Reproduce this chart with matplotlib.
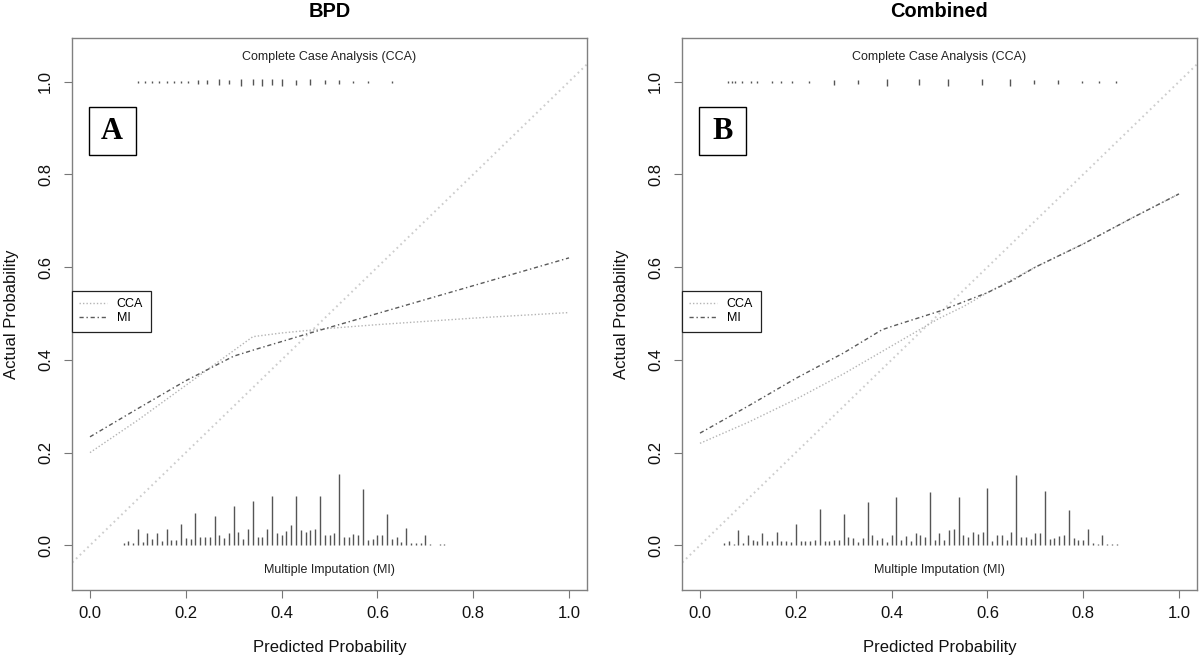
import numpy as np
import matplotlib
matplotlib.use('Agg')  # no display in the sandbox
import matplotlib.pyplot as plt
from matplotlib.patches import Rectangle

plt.rcParams['font.family'] = ['Liberation Sans', 'DejaVu Sans']

# Calibration curves (predicted vs actual probability)
bpd_cca_x = [0.0, 0.1, 0.2, 0.3, 0.34, 0.4, 0.5, 0.6, 0.8, 1.0]
bpd_cca_y = [0.20, 0.27, 0.345, 0.42, 0.45, 0.458, 0.468, 0.476, 0.49, 0.502]
bpd_mi_x = [0.0, 0.1, 0.2, 0.3, 0.35, 0.45, 0.6, 0.8, 1.0]
bpd_mi_y = [0.234, 0.295, 0.355, 0.408, 0.424, 0.455, 0.50, 0.56, 0.62]

comb_cca_x = [0.0, 0.1, 0.2, 0.3, 0.4, 0.5, 0.55, 0.6, 0.7, 0.8, 0.9, 1.0]
comb_cca_y = [0.22, 0.265, 0.315, 0.37, 0.43, 0.49, 0.515, 0.545, 0.60, 0.65, 0.705, 0.758]
comb_mi_x = [0.0, 0.1, 0.2, 0.3, 0.38, 0.4, 0.5, 0.6, 0.65, 0.7, 0.8, 0.9, 1.0]
comb_mi_y = [0.242, 0.30, 0.36, 0.415, 0.465, 0.472, 0.505, 0.545, 0.57, 0.60, 0.65, 0.705, 0.758]

# Distribution of predicted risk, MI (bottom spikes, bins of 0.01)
bpd_mi_start = 0.07
bpd_mi_heights = [
    0.004, 0.009, 0.005, 0.035, 0.007, 0.027, 0.013, 0.027, 0.009, 0.035,
    0.011, 0.011, 0.047, 0.016, 0.014, 0.070, 0.017, 0.017, 0.017, 0.063,
    0.023, 0.016, 0.027, 0.084, 0.029, 0.014, 0.035, 0.095, 0.019, 0.018,
    0.035, 0.106, 0.027, 0.023, 0.030, 0.043, 0.106, 0.033, 0.029, 0.032,
    0.035, 0.107, 0.022, 0.022, 0.027, 0.153, 0.017, 0.017, 0.024, 0.023,
    0.121, 0.011, 0.014, 0.023, 0.022, 0.068, 0.014, 0.017, 0.007, 0.037,
    0.004, 0.004, 0.004, 0.022, 0.003, 0.0, 0.003, 0.003]
comb_mi_start = 0.05
comb_mi_heights = [
    0.004, 0.009, 0.002, 0.033, 0.006, 0.022, 0.011, 0.009, 0.026, 0.009,
    0.009, 0.029, 0.009, 0.009, 0.007, 0.046, 0.009, 0.009, 0.009, 0.011,
    0.079, 0.009, 0.009, 0.012, 0.012, 0.068, 0.017, 0.016, 0.007, 0.015,
    0.093, 0.022, 0.012, 0.016, 0.007, 0.022, 0.105, 0.012, 0.020, 0.009,
    0.026, 0.022, 0.018, 0.114, 0.011, 0.026, 0.012, 0.033, 0.035, 0.105,
    0.023, 0.019, 0.029, 0.025, 0.029, 0.123, 0.009, 0.022, 0.022, 0.012,
    0.029, 0.152, 0.017, 0.017, 0.013, 0.027, 0.027, 0.117, 0.013, 0.016,
    0.020, 0.022, 0.077, 0.016, 0.012, 0.012, 0.036, 0.004, 0.002, 0.022,
    0.002, 0.002, 0.002]

# Distribution of predicted risk, CCA (top spikes)
bpd_cca_spike_x = [0.10, 0.115, 0.13, 0.145, 0.16, 0.175, 0.19, 0.205, 0.225, 0.245,
                   0.27, 0.29, 0.315, 0.34, 0.36, 0.38, 0.40, 0.43, 0.46, 0.49,
                   0.52, 0.55, 0.58, 0.63]
bpd_cca_spike_h = [0.003, 0.003, 0.004, 0.003, 0.004, 0.004, 0.004, 0.005, 0.008, 0.007,
                   0.013, 0.008, 0.014, 0.012, 0.016, 0.012, 0.014, 0.011, 0.012, 0.007,
                   0.008, 0.004, 0.004, 0.003]
comb_cca_spike_x = [0.059, 0.066, 0.073, 0.088, 0.106, 0.12, 0.15, 0.17, 0.193, 0.228,
                    0.28, 0.33, 0.39, 0.457, 0.518, 0.588, 0.647, 0.697, 0.747, 0.798,
                    0.833, 0.868]
comb_cca_spike_h = [0.003, 0.003, 0.003, 0.004, 0.005, 0.004, 0.005, 0.005, 0.006, 0.006,
                    0.011, 0.009, 0.015, 0.013, 0.016, 0.012, 0.015, 0.009, 0.008, 0.006,
                    0.004, 0.004]

ticks = [0.0, 0.2, 0.4, 0.6, 0.8, 1.0]
tick_labels = ['0.0', '0.2', '0.4', '0.6', '0.8', '1.0']


def draw_panel(ax, title, letter, cca_x, cca_y, mi_x, mi_y,
               mi_start, mi_heights, spike_x, spike_h):
    ax.set_xlim(-0.0382, 1.0382)
    ax.set_ylim(-0.0964, 1.0936)

    # ideal line
    ax.plot([-0.1, 1.1], [-0.1, 1.1], color='#cdcdcd', lw=1.4,
            linestyle=(0, (0.9, 1.8)), zorder=1)

    cca_line, = ax.plot(cca_x, cca_y, color='#b4b4b4', lw=1.0,
                        linestyle=(0, (1, 1.5)), label='CCA', zorder=2)
    mi_line, = ax.plot(mi_x, mi_y, color='#5a5a5a', lw=1.0,
                       linestyle=(0, (3, 2, 1, 2)), label='MI', zorder=3)

    # spikes
    mi_bins = np.round(mi_start + 0.01 * np.arange(len(mi_heights)), 2)
    ax.vlines(mi_bins, 0, mi_heights, color='#555555', lw=1.0)
    spike_h = np.array(spike_h)
    ax.vlines(spike_x, 1.0 - spike_h * 0.6, 1.0 + spike_h * 0.4,
              color='#555555', lw=1.0)

    ax.text(0.5, 1.053, 'Complete Case Analysis (CCA)', ha='center', va='center',
            fontsize=9, color='#222222')
    ax.text(0.5, -0.053, 'Multiple Imputation (MI)', ha='center', va='center',
            fontsize=9, color='#222222')

    # panel letter in a box
    ax.add_patch(Rectangle((0.033, 0.788), 0.091, 0.087, transform=ax.transAxes,
                           fill=False, edgecolor='black', lw=1.0, zorder=5))
    ax.text(0.0785, 0.8315, letter, transform=ax.transAxes, ha='center', va='center',
            fontsize=22, fontweight='bold', family=['Liberation Serif', 'DejaVu Serif'])

    leg = ax.legend(handles=[cca_line, mi_line], loc='upper left',
                    bbox_to_anchor=(0.0, 0.5425), borderaxespad=0, fontsize=9,
                    frameon=True, fancybox=False, framealpha=1, edgecolor='#222222',
                    handlelength=2.2, handletextpad=0.8, borderpad=0.6,
                    labelspacing=0.15)
    leg.get_frame().set_linewidth(0.9)

    ax.set_xticks(ticks)
    ax.set_xticklabels(tick_labels)
    ax.set_yticks(ticks)
    ax.set_yticklabels(tick_labels, rotation=90, va='center')
    ax.tick_params(axis='both', direction='out', length=5.8, width=0.8,
                   color='#777777', labelsize=12, labelcolor='#111111')
    ax.tick_params(axis='x', pad=5.5)
    ax.tick_params(axis='y', pad=7.5)
    for side in ax.spines.values():
        side.set_color('#808080')
        side.set_linewidth(1.0)

    ax.set_xlabel('Predicted Probability', fontsize=12, labelpad=14, color='#111111')
    ax.set_ylabel('Actual Probability', fontsize=12, labelpad=14, color='#111111')
    ax.set_title(title, fontsize=14.4, fontweight='bold', pad=15)


fig = plt.figure(figsize=(12, 6.58), dpi=100)
ax1 = fig.add_axes([0.05975, 0.10334, 0.42967, 0.83845])
ax2 = fig.add_axes([0.56808, 0.10334, 0.42967, 0.83845])

draw_panel(ax1, 'BPD', 'A', bpd_cca_x, bpd_cca_y, bpd_mi_x, bpd_mi_y,
           bpd_mi_start, bpd_mi_heights, bpd_cca_spike_x, bpd_cca_spike_h)
draw_panel(ax2, 'Combined', 'B', comb_cca_x, comb_cca_y, comb_mi_x, comb_mi_y,
           comb_mi_start, comb_mi_heights, comb_cca_spike_x, comb_cca_spike_h)

fig.savefig('out.png', dpi=100)
